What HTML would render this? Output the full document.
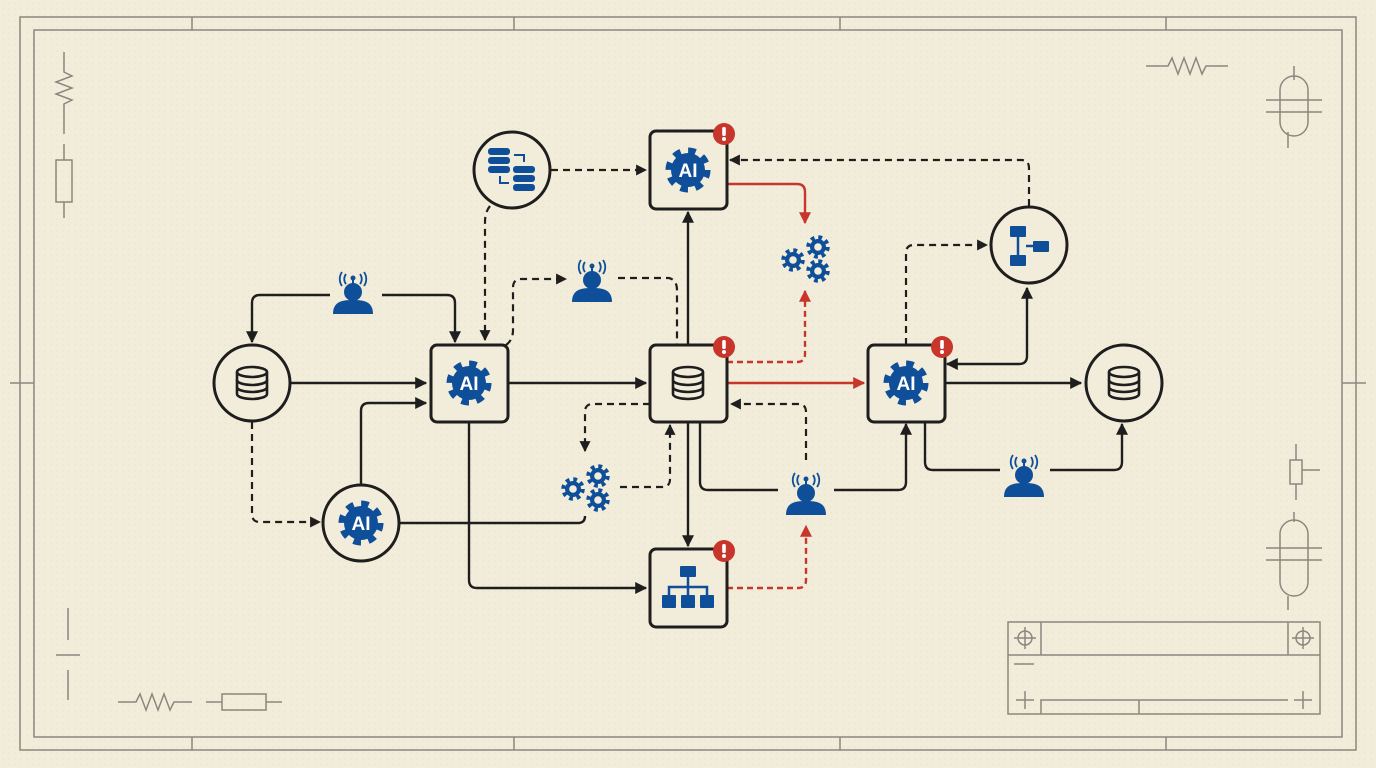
<!DOCTYPE html>
<html><head><meta charset="utf-8"><style>
html,body{margin:0;padding:0;}
body{width:1376px;height:768px;overflow:hidden;background:#f2edda;}
svg{display:block;}
</style></head><body>
<svg width="1376" height="768" viewBox="0 0 1376 768" xmlns="http://www.w3.org/2000/svg" font-family="Liberation Sans, sans-serif">
<defs>
<pattern id="dots" width="6" height="6" patternUnits="userSpaceOnUse"><circle cx="3" cy="3" r="0.7" fill="#d9d2bb" opacity="0.5"/></pattern>
<marker id="ab" viewBox="0 0 10 10" refX="9" refY="5" markerWidth="5" markerHeight="5" orient="auto-start-reverse"><path d="M0,0 L10,5 L0,10 z" fill="#1e1e1e"/></marker>
<marker id="ar" viewBox="0 0 10 10" refX="9" refY="5" markerWidth="5" markerHeight="5" orient="auto"><path d="M0,0 L10,5 L0,10 z" fill="#c8352b"/></marker>
<g id="gear"><circle r="17" fill="#0f4f99"/><circle r="19" fill="none" stroke="#0f4f99" stroke-width="7" stroke-dasharray="7.46 7.46"/></g>
<g id="sgear"><circle r="8" fill="#0f4f99"/><circle r="9.5" fill="none" stroke="#0f4f99" stroke-width="4.5" stroke-dasharray="3.73 3.73"/><circle r="3.8" fill="#f2edda"/></g>
<g id="db" fill="none" stroke="#1e1e1e" stroke-width="2.6"><ellipse cx="0" cy="-11" rx="15" ry="5"/><path d="M-15,-11 V11 A15,5 0 0 0 15,11 V-11"/><path d="M-15,-3 A15,5 0 0 0 15,-3 M-15,4 A15,5 0 0 0 15,4"/></g>
<g id="person" fill="#0f4f99"><circle cx="0" cy="-6" r="9"/><path d="M-20,16 C-20,3 -10,2 0,2 C10,2 20,3 20,16 z"/><line x1="0" y1="-14" x2="0" y2="-20" stroke="#0f4f99" stroke-width="2"/><circle cx="0" cy="-20" r="2.5"/><path d="M-7,-24 A8,8 0 0 0 -7,-14 M7,-24 A8,8 0 0 1 7,-14 M-11,-26 A12,12 0 0 0 -11,-12 M11,-26 A12,12 0 0 1 11,-12" fill="none" stroke="#0f4f99" stroke-width="1.8"/></g>
<g id="badge"><circle r="11" fill="#c8352b"/><rect x="-1.8" y="-7" width="3.6" height="9" rx="1.5" fill="#fff"/><circle cy="5" r="2" fill="#fff"/></g>
<g id="gears3"><use href="#sgear" x="-12" y="2"/><use href="#sgear" x="13" y="-11"/><use href="#sgear" x="13" y="13"/></g>
</defs>
<rect width="1376" height="768" fill="#f2edda"/>
<rect width="1376" height="768" fill="url(#dots)"/>
<g fill="none" stroke="#8a8780" stroke-width="1.5">
<rect x="20" y="17" width="1336" height="733"/>
<rect x="34" y="30" width="1308" height="707"/>
<path d="M192,17V30 M514,17V30 M840,17V30 M1166,17V30 M192,737V750 M514,737V750 M840,737V750 M1166,737V750 M10,383H34 M1342,383H1366"/>
<path d="M64,52V72 L72,76 L56,82 L72,88 L56,94 L72,100 L64,104V134 M64,144V160 M56,160H72V202H56Z M64,202V218"/>
<path d="M1146,66H1168 L1172,58 L1178,74 L1184,58 L1190,74 L1196,58 L1202,74 L1206,66H1228"/>
<path d="M1280,90 A14,14 0 0 1 1308,90 V122 A14,14 0 0 1 1280,122Z M1266,100H1322 M1266,112H1322 M1294,80V66 M1288,132V148"/>
<path d="M1280,534 A14,14 0 0 1 1308,534 V582 A14,14 0 0 1 1280,582Z M1266,548H1322 M1266,560H1322 M1294,512V522 M1288,596V610"/>
<path d="M1296,444V460 M1290,460H1302V484H1290Z M1296,484V500 M1302,470H1320"/>
<path d="M68,608V640 M56,655H80 M68,670V700"/>
<path d="M118,702H136 L140,694 L146,710 L152,694 L158,710 L164,694 L170,710 L174,702H192 M206,702H222 M222,694H266V710H222Z M266,702H282"/>
<rect x="1008" y="622" width="312" height="92"/>
<path d="M1008,655H1320 M1041,622V655 M1288,622V655 M1041,714V700H1288 M1139,700V714 M1014,664H1034"/>
<circle cx="1025" cy="638" r="7"/><path d="M1014,638H1036 M1025,627V649"/>
<circle cx="1303" cy="638" r="7"/><path d="M1292,638H1314 M1303,627V649"/>
<path d="M1016,700H1034 M1025,691V709 M1294,700H1312 M1303,691V709"/>
</g>
<g fill="none" stroke="#1e1e1e" stroke-width="2.4" marker-end="url(#ab)">
<path d="M330,295H260Q252,295 252,303V342"/>
<path d="M382,295H447Q455,295 455,303V342"/>
<path d="M291,383H426"/>
<path d="M400,523H578Q585,523 585,516" marker-end="none"/>
<path d="M361,484V411Q361,403 369,403H426"/>
<path d="M508,383H646"/>
<path d="M469,422V580Q469,588 477,588H646"/>
<path d="M688,345V212"/>
<path d="M688,422V546"/>
<path d="M700,422V482Q700,490 708,490H778" marker-end="none"/>
<path d="M834,490H898Q906,490 906,482V424"/>
<path d="M945,383H1081"/>
<path d="M947,364H1019Q1027,364 1027,356V288" marker-start="url(#ab)"/>
<path d="M925,422V462Q925,470 933,470H1000" marker-end="none"/>
<path d="M1050,470H1114Q1122,470 1122,462V424"/>
</g>
<g fill="none" stroke="#1e1e1e" stroke-width="2.2" stroke-dasharray="7 5" marker-end="url(#ab)">
<path d="M252,422V514Q252,522 260,522H320"/>
<path d="M490,206Q485,212 485,222V340"/>
<path d="M551,170H646"/>
<path d="M506,345Q513,340 513,330V288Q513,279 521,279H566"/>
<path d="M618,278H669Q677,280 677,290V345" marker-end="none"/>
<path d="M650,404H593Q585,404 585,412V451"/>
<path d="M620,487H662Q670,487 670,479V425"/>
<path d="M806,460V412Q806,404 798,404H731"/>
<path d="M1029,206V168Q1029,160 1021,160H730"/>
<path d="M906,345V253Q906,245 914,245H987"/>
</g>
<g fill="none" stroke="#c8352b" stroke-width="2.4" marker-end="url(#ar)">
<path d="M727,184H797Q805,184 805,192V223"/>
<path d="M727,383H864"/>
<path d="M727,362H797Q805,362 805,354V291" stroke-dasharray="6 4"/>
<path d="M727,588H798Q806,588 806,580V526" stroke-dasharray="6 4"/>
</g>
<g fill="#f2edda" stroke="#1e1e1e" stroke-width="3">
<circle cx="252" cy="383" r="38"/><circle cx="361" cy="523" r="38"/><circle cx="512" cy="170" r="38"/><circle cx="1029" cy="245" r="38"/><circle cx="1124" cy="383" r="38"/>
<rect x="431" y="345" width="77" height="77" rx="6"/>
<rect x="650" y="131" width="77" height="78" rx="6"/>
<rect x="650" y="345" width="77" height="77" rx="6"/>
<rect x="650" y="549" width="77" height="78" rx="6"/>
<rect x="868" y="345" width="77" height="77" rx="6"/>
</g>
<use href="#db" x="252" y="383"/><use href="#db" x="688" y="383"/><use href="#db" x="1124" y="383"/>
<g font-size="19" font-weight="bold" fill="#fff" text-anchor="middle">
<use href="#gear" x="469" y="383"/><text x="469" y="390">AI</text>
<use href="#gear" x="688" y="170"/><text x="688" y="177">AI</text>
<use href="#gear" x="906" y="383"/><text x="906" y="390">AI</text>
<use href="#gear" x="361" y="523"/><text x="361" y="530">AI</text>
</g>
<g fill="#0f4f99">
<rect x="488" y="148" width="22" height="7" rx="3"/><rect x="488" y="157" width="22" height="7" rx="3"/><rect x="488" y="166" width="22" height="7" rx="3"/>
<rect x="513" y="166" width="22" height="7" rx="3"/><rect x="513" y="175" width="22" height="7" rx="3"/><rect x="513" y="184" width="22" height="7" rx="3"/>
</g>
<path d="M514,155H524V162 M500,176V183H509" fill="none" stroke="#0f4f99" stroke-width="2"/>
<g fill="#0f4f99"><rect x="1010" y="226" width="16" height="11" rx="1"/><rect x="1033" y="241" width="16" height="11" rx="1"/><rect x="1010" y="255" width="16" height="11" rx="1"/></g>
<path d="M1018,237V255 M1026,246H1033" stroke="#0f4f99" stroke-width="2.5" fill="none"/>
<g fill="#0f4f99"><rect x="680" y="566" width="16" height="11" rx="1"/><rect x="662" y="595" width="14" height="13" rx="1"/><rect x="681" y="595" width="14" height="13" rx="1"/><rect x="700" y="595" width="14" height="13" rx="1"/></g>
<path d="M688,577V595 M669,595V587H707V595" fill="none" stroke="#0f4f99" stroke-width="2.5"/>
<use href="#person" x="353" y="298"/><use href="#person" x="592" y="286"/><use href="#person" x="806" y="499"/><use href="#person" x="1024" y="481"/>
<use href="#gears3" x="805" y="258"/><use href="#gears3" x="585" y="487"/>
<use href="#badge" x="724" y="134"/><use href="#badge" x="724" y="347"/><use href="#badge" x="724" y="551"/><use href="#badge" x="942" y="347"/>
</svg>
</body></html>
